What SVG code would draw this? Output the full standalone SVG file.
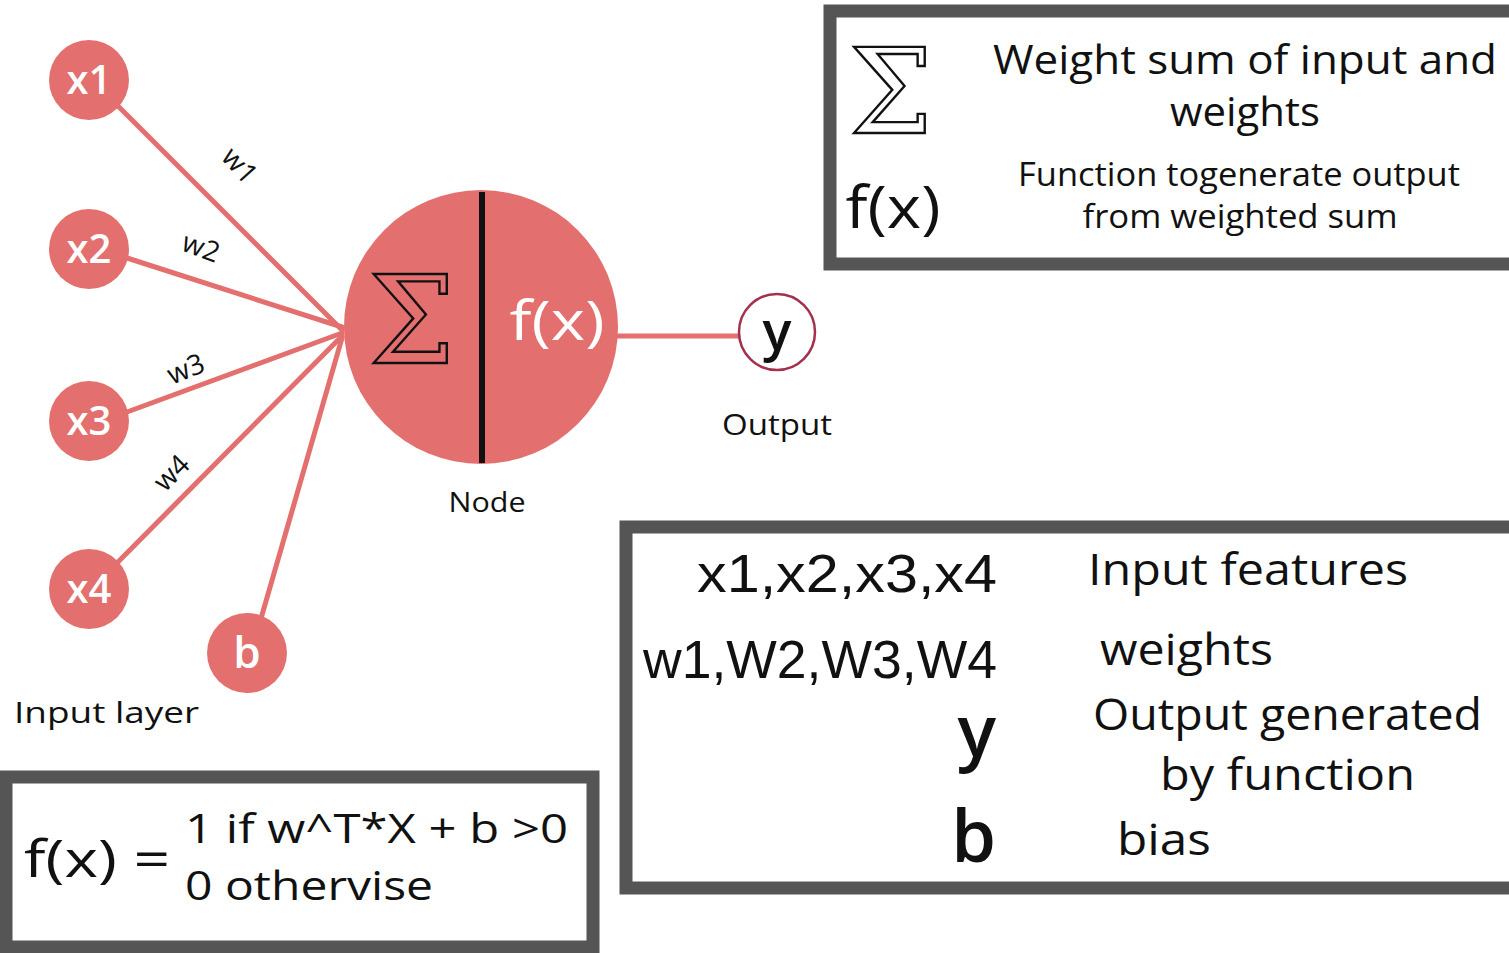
<svg xmlns="http://www.w3.org/2000/svg" width="1509" height="953" viewBox="0 0 1509 953">
<style>
.nd{fill:#e3706f}
.cn{stroke:#e3706f;stroke-width:5;fill:none;stroke-linecap:round}
.hw{font-family:"Open Sans","DejaVu Sans",sans-serif;fill:#111}
.wh{font-family:"Open Sans","DejaVu Sans",sans-serif;fill:#fff}
.ar{font-family:"Liberation Sans",Arial,sans-serif;fill:#111}
.box{fill:#fff;stroke:#555;stroke-width:13}
.sig{font-family:"DejaVu Serif",serif;fill:none;stroke:#111;stroke-width:2.4}
</style>
<rect width="1509" height="953" fill="#fff"/>
<g id="connectors">
<line class="cn" x1="112" y1="100" x2="342" y2="330"/>
<line class="cn" x1="127" y1="258" x2="342" y2="327"/>
<line class="cn" x1="127" y1="412" x2="342" y2="333"/>
<line class="cn" x1="118" y1="562" x2="342" y2="336"/>
<line class="cn" x1="262" y1="615" x2="342" y2="338"/>
<line class="cn" x1="615" y1="336" x2="740" y2="336"/>
<text class="hw" font-size="28" transform="translate(220,158) rotate(48)">w1</text>
<text class="hw" font-size="28" transform="translate(180,250) rotate(20)">w2</text>
<text class="hw" font-size="28" transform="translate(172,385) rotate(-22)">w3</text>
<text class="hw" font-size="28" transform="translate(165,493) rotate(-45)">w4</text>
</g>
<g id="x1"><circle class="nd" cx="89" cy="80" r="40"/><text class="wh" x="89" y="94" font-size="40" font-weight="600" text-anchor="middle">x1</text></g>
<g id="x2"><circle class="nd" cx="89" cy="249" r="40"/><text class="wh" x="89" y="263" font-size="40" font-weight="600" text-anchor="middle">x2</text></g>
<g id="x3"><circle class="nd" cx="89" cy="421" r="40"/><text class="wh" x="89" y="435" font-size="40" font-weight="600" text-anchor="middle">x3</text></g>
<g id="x4"><circle class="nd" cx="89" cy="589" r="40"/><text class="wh" x="89" y="603" font-size="40" font-weight="600" text-anchor="middle">x4</text></g>
<g id="b"><circle class="nd" cx="247" cy="653" r="40"/><text class="wh" x="247" y="668" font-size="44" font-weight="600" text-anchor="middle">b</text></g>
<text class="hw" x="14" y="723" font-size="30" textLength="185" lengthAdjust="spacingAndGlyphs">Input layer</text>
<g id="node">
<circle class="nd" cx="481" cy="327" r="137"/>
<line x1="482" y1="192" x2="482" y2="463" stroke="#111" stroke-width="6"/>
<text class="sig" x="412" y="363" font-size="122" text-anchor="middle">Σ</text>
<text class="wh" x="557" y="340" font-size="54" text-anchor="middle" textLength="95" lengthAdjust="spacingAndGlyphs">f(x)</text>
<text class="hw" x="487" y="512" font-size="28" text-anchor="middle" textLength="77" lengthAdjust="spacingAndGlyphs">Node</text>
</g>
<g id="y">
<circle cx="777" cy="332" r="38" fill="#fff" stroke="#a3304c" stroke-width="2.5"/>
<text class="hw" x="777" y="350" font-size="54" font-weight="600" text-anchor="middle">y</text>
<text class="hw" x="777" y="435" font-size="30" text-anchor="middle" textLength="110" lengthAdjust="spacingAndGlyphs">Output</text>
</g>
<g id="legend-top">
<rect class="box" x="830" y="11" width="690" height="253"/>
<text class="sig" x="891" y="133" font-size="118" text-anchor="middle">Σ</text>
<text class="hw" x="893" y="228" font-size="58" text-anchor="middle" textLength="95" lengthAdjust="spacingAndGlyphs">f(x)</text>
<text class="hw" x="1245" y="74" font-size="40" text-anchor="middle" textLength="504" lengthAdjust="spacingAndGlyphs">Weight sum of input and</text>
<text class="hw" x="1245" y="126" font-size="40" text-anchor="middle" textLength="150" lengthAdjust="spacingAndGlyphs">weights</text>
<text class="hw" x="1239" y="186" font-size="32" text-anchor="middle" textLength="442" lengthAdjust="spacingAndGlyphs">Function togenerate output</text>
<text class="hw" x="1240" y="228" font-size="32" text-anchor="middle" textLength="315" lengthAdjust="spacingAndGlyphs">from weighted sum</text>
</g>
<g id="legend-bottom">
<rect class="box" x="626" y="527" width="890" height="361"/>
<text class="ar" x="997" y="592" font-size="54" text-anchor="end" textLength="300" lengthAdjust="spacingAndGlyphs">x1,x2,x3,x4</text>
<text class="ar" x="997" y="678" font-size="54" text-anchor="end" textLength="354" lengthAdjust="spacingAndGlyphs">w1,W2,W3,W4</text>
<text class="hw" x="996" y="757" font-size="72" font-weight="600" text-anchor="end">y</text>
<text class="hw" x="996" y="862" font-size="72" font-weight="600" text-anchor="end">b</text>
<text class="hw" x="1088" y="585" font-size="44" textLength="320" lengthAdjust="spacingAndGlyphs">Input features</text>
<text class="hw" x="1100" y="665" font-size="44" textLength="173" lengthAdjust="spacingAndGlyphs">weights</text>
<text class="hw" x="1093" y="730" font-size="44" textLength="389" lengthAdjust="spacingAndGlyphs">Output generated</text>
<text class="hw" x="1160" y="790" font-size="44" textLength="255" lengthAdjust="spacingAndGlyphs">by function</text>
<text class="hw" x="1117" y="855" font-size="44" textLength="94" lengthAdjust="spacingAndGlyphs">bias</text>
</g>
<g id="formula">
<rect class="box" x="6" y="777" width="587" height="170"/>
<text class="hw" x="24" y="877" font-size="52" textLength="146" lengthAdjust="spacingAndGlyphs">f(x) =</text>
<text class="hw" x="185" y="843" font-size="40" textLength="383" lengthAdjust="spacingAndGlyphs">1 if w^T*X + b &gt;0</text>
<text class="hw" x="185" y="900" font-size="40" textLength="248" lengthAdjust="spacingAndGlyphs">0 othervise</text>
</g>
</svg>
